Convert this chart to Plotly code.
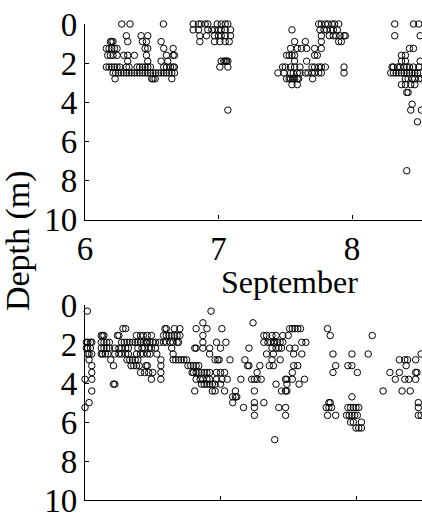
import plotly.graph_objects as go

# ---- Top panel (September, first deployment): depth level -> list of day values
top_rows = [
    (0.0,  [6.275, 6.337, 6.587, 6.81, 6.85, 6.87, 6.90, 6.92, 6.99, 7.02, 7.05, 7.07,
            7.75, 7.77, 7.80, 7.82, 7.85, 7.87, 7.90, 8.32, 8.46, 8.50]),
    (0.3,  [6.81, 6.85, 6.92, 6.95, 6.97, 7.00, 7.02, 7.05, 7.09,
            7.55, 7.76, 7.79, 7.81, 7.84, 7.86, 7.89]),
    (0.6,  [6.31, 6.42, 6.47, 6.86, 6.91, 6.97, 7.00, 7.02, 7.05, 7.09,
            7.77, 7.83, 7.86, 7.88, 7.91, 7.94, 7.95, 8.32, 8.51]),
    (0.9,  [6.19, 6.20, 6.21, 6.32, 6.43, 6.46, 6.57, 6.86, 6.97, 7.01, 7.05, 7.08,
            7.57, 7.65, 7.77, 7.90, 7.92]),
    (1.25, [6.16, 6.18, 6.20, 6.22, 6.24, 6.45, 6.47, 6.59, 6.66,
            7.54, 7.59, 7.62, 7.66, 7.72, 7.77, 8.43, 8.46]),
    (1.6,  [6.17, 6.19, 6.21, 6.24, 6.29, 6.32, 6.37, 6.46, 6.61, 6.66, 6.67,
            7.51, 7.53, 7.55, 7.57, 7.72, 7.74, 8.37, 8.40]),
    (1.9,  [6.32, 6.47, 6.57, 6.62, 7.02, 7.04, 7.05, 7.06, 7.07,
            7.57, 7.66, 8.37, 8.40, 8.51]),
    (2.2,  [6.16, 6.18, 6.20, 6.22, 6.24, 6.26, 6.31, 6.33, 6.39, 6.41, 6.43, 6.45,
            6.47, 6.49, 6.59, 6.61, 6.64, 6.66, 6.67, 7.01, 7.07,
            7.48, 7.50, 7.54, 7.57, 7.61, 7.70, 7.72, 7.75, 7.77, 7.80, 7.94,
            8.30, 8.31, 8.34, 8.36, 8.39, 8.41, 8.43, 8.46, 8.50]),
    (2.5,  [6.21, 6.23, 6.25, 6.27, 6.29, 6.31, 6.33, 6.35, 6.37, 6.39, 6.41, 6.43,
            6.45, 6.47, 6.49, 6.51, 6.53, 6.55, 6.57, 6.59, 6.61, 6.63, 6.65, 6.67,
            7.445, 7.49, 7.54, 7.56, 7.59, 7.61, 7.65, 7.67, 7.70, 7.72, 7.75, 7.77, 7.94,
            8.29, 8.31, 8.33, 8.35, 8.37, 8.39, 8.41, 8.43, 8.45, 8.47, 8.49, 8.51, 8.53]),
    (2.8,  [6.225, 6.50, 6.51, 6.525, 6.65, 7.51, 7.53, 7.54, 7.56, 7.57, 7.59, 7.60, 7.705,
            8.40, 8.42, 8.45, 8.47, 8.50, 8.52]),
    (3.1,  [7.55, 7.59, 8.37, 8.40, 8.44, 8.47]),
    (3.5,  [8.41, 8.42]),
    (4.1,  [8.45]),
    (4.4,  [7.07, 8.44, 8.52]),
    (5.0,  [8.49]),
    (7.5,  [8.41]),
]

# ---- Bottom panel (second deployment): depth level -> list of day values
bottom_rows = [
    (0.3,  [6.017, 6.93]),
    (0.9,  [6.87, 7.24]),
    (1.2,  [6.28, 6.30, 6.59, 6.60, 6.66, 6.70, 6.82, 6.90, 7.01,
            7.51, 7.53, 7.55, 7.57, 7.59, 7.79]),
    (1.55, [6.12, 6.13, 6.14, 6.24, 6.25, 6.38, 6.41, 6.43, 6.46, 6.49,
            6.58, 6.60, 6.62, 6.64, 6.66, 6.68, 6.70, 6.87,
            7.32, 7.34, 7.38, 7.41, 7.46, 7.50, 7.81, 8.12]),
    (1.9,  [6.01, 6.02, 6.04, 6.05, 6.12, 6.14, 6.16, 6.18,
            6.27, 6.29, 6.31, 6.33, 6.35, 6.37, 6.39, 6.41, 6.43, 6.45, 6.46, 6.48, 6.50, 6.52,
            6.55, 6.58, 6.60, 6.63, 6.65, 6.68, 6.69, 6.87, 6.97, 7.04,
            7.32, 7.35, 7.37, 7.39, 7.40, 7.42, 7.44, 7.46, 7.60, 7.63]),
    (2.2,  [6.01, 6.02, 6.04, 6.12, 6.14, 6.16, 6.18,
            6.22, 6.25, 6.27, 6.30, 6.32, 6.39, 6.42, 6.44, 6.47, 6.49, 6.52, 6.64,
            6.81, 6.82, 6.87, 6.92, 7.00, 7.21,
            7.38, 7.41, 7.43, 7.45, 7.51, 7.55]),
    (2.5,  [6.02, 6.03, 6.05, 6.12, 6.13, 6.15, 6.17,
            6.22, 6.25, 6.27, 6.30, 6.32, 6.38, 6.41, 6.43, 6.46, 6.48, 6.53, 6.65, 6.92,
            7.34, 7.39, 7.54, 7.60, 7.83, 7.97, 8.09, 8.48]),
    (2.8,  [6.03, 6.19, 6.31, 6.33, 6.35, 6.37, 6.39, 6.56,
            6.65, 6.67, 6.69, 6.71, 6.73, 6.75, 6.96, 6.98, 6.99, 7.07, 7.18,
            7.38, 7.44, 8.32, 8.36, 8.38, 8.44]),
    (3.1,  [6.05, 6.21, 6.34, 6.36, 6.38, 6.40, 6.45, 6.46, 6.56,
            6.76, 6.78, 6.80, 6.82, 6.84, 7.20, 7.21, 7.29,
            7.36, 7.39, 7.54, 7.57, 7.85, 7.94, 7.97, 8.37]),
    (3.45, [6.05, 6.41, 6.44, 6.47, 6.50, 6.56,
            6.79, 6.80, 6.82, 6.84, 6.86, 6.88, 6.90, 6.92, 6.97, 7.00, 7.03, 7.27,
            7.53, 7.83, 8.01, 8.25, 8.32, 8.44, 8.45]),
    (3.8,  [6.0, 6.05, 6.49, 6.56, 6.82, 6.85, 6.87, 6.90, 6.92, 6.97, 7.01, 7.05,
            7.15, 7.23, 7.25, 7.27, 7.30, 7.48, 7.49, 7.53, 7.62,
            8.29, 8.36, 8.39, 8.44]),
    (4.05, [6.21, 6.22, 6.86, 6.88, 6.90, 6.92, 6.94, 6.96, 7.00, 7.41, 7.49, 7.58]),
    (4.4,  [6.05, 6.81, 6.94, 6.96, 7.03, 7.11, 7.25, 7.45, 7.48, 7.49, 8.20, 8.34, 8.40]),
    (4.7,  [7.09, 7.11, 7.12, 7.97]),
    (5.0,  [6.03, 7.09, 7.25, 7.32, 7.80, 7.81, 8.46]),
    (5.25, [6.0, 7.17, 7.25, 7.43, 7.48, 7.78, 7.80, 7.82, 7.94, 7.96, 7.98, 8.00, 8.02, 8.46]),
    (5.65, [7.25, 7.48, 7.79, 7.85, 7.93, 7.95, 7.97, 7.99, 8.01, 8.46, 8.48]),
    (6.0,  [7.96, 7.98, 8.04]),
    (6.3,  [8.00, 8.02, 8.04]),
    (6.9,  [7.40]),
]

y_ticks = [0, 2, 4, 6, 8, 10]
top_x_ticks = [6, 7, 8]
bottom_x_ticks = [6, 7, 8]


def expand(rows):
    xs, ys = [], []
    for depth, days in rows:
        for d in days:
            xs.append(d)
            ys.append(depth)
    return xs, ys


tx, ty = expand(top_rows)
bx, by = expand(bottom_rows)

FONT = "Liberation Serif"
marker = dict(symbol="circle-open", size=6.5, color="black", line=dict(width=1, color="black"))

fig = go.Figure()
fig.add_trace(go.Scatter(x=tx, y=ty, mode="markers", marker=marker, xaxis="x", yaxis="y",
                         cliponaxis=False, showlegend=False, hoverinfo="skip"))
fig.add_trace(go.Scatter(x=bx, y=by, mode="markers", marker=marker, xaxis="x2", yaxis="y2",
                         cliponaxis=False, showlegend=False, hoverinfo="skip"))

axis_common = dict(showline=True, linecolor="black", linewidth=1.3, mirror=False,
                   ticks="inside", ticklen=4, tickcolor="black", tickwidth=1,
                   showgrid=False, zeroline=False,
                   tickfont=dict(family=FONT, size=33, color="black"))

fig.update_layout(
    width=422, height=519,
    margin=dict(l=85, r=0, t=24, b=8),
    paper_bgcolor="white", plot_bgcolor="white",
    font=dict(family=FONT, color="black"),
    xaxis=dict(domain=[0, 1], range=[6, 8.524], tickvals=top_x_ticks,
               ticktext=[str(v) for v in top_x_ticks], anchor="y", **axis_common),
    yaxis=dict(domain=[0.589, 1], range=[10, 0], tickvals=y_ticks, anchor="x", **axis_common),
    xaxis2=dict(domain=[0, 1], range=[6, 8.487], tickvals=bottom_x_ticks,
                showticklabels=False, anchor="y2", **axis_common),
    yaxis2=dict(domain=[0, 0.409], range=[10, 0], tickvals=y_ticks, anchor="x2", **axis_common),
    annotations=[
        dict(text="September", xref="paper", yref="paper", x=0.608, y=0.459,
             xanchor="center", yanchor="middle", showarrow=False,
             font=dict(family=FONT, size=32, color="black")),
        dict(text="Depth (m)", xref="paper", yref="paper", x=-0.199, y=0.546,
             xanchor="center", yanchor="middle", textangle=-90, showarrow=False,
             font=dict(family=FONT, size=34, color="black")),
    ],
)

fig.write_html("out.html", config={"displayModeBar": False},
               post_script="document.body.style.margin='0';document.body.style.overflow='hidden';")
